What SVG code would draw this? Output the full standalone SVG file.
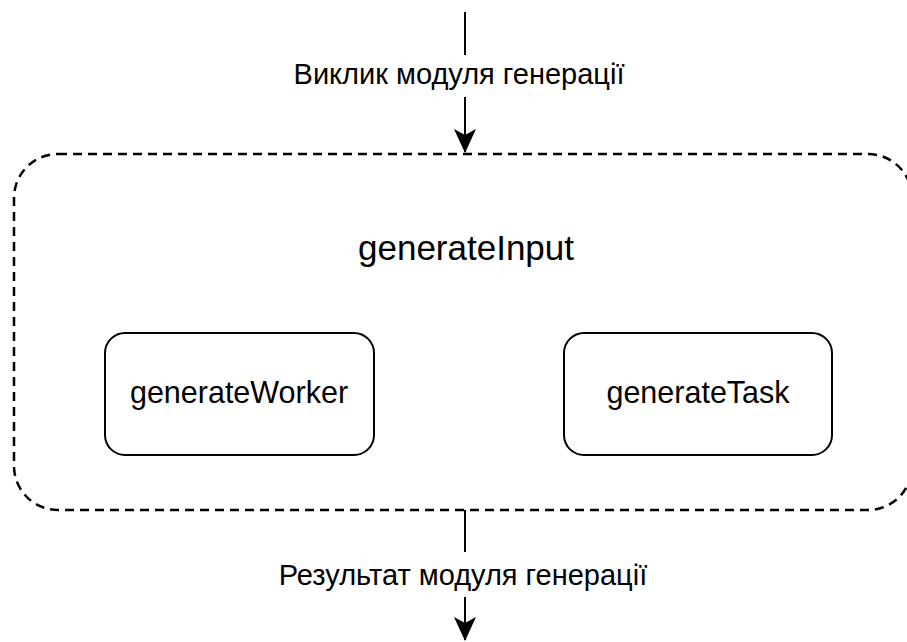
<svg xmlns="http://www.w3.org/2000/svg" width="907" height="642" viewBox="0 0 907 642">
<style>
text{font-family:"Liberation Sans",Arial,Helvetica,sans-serif;fill:#000;text-anchor:middle}
.lbl{font-size:29px}
.big{font-size:35px}
.mid{font-size:30.5px}
.box{fill:#fff;stroke:#000;stroke-width:2}
.cont{fill:none;stroke:#000;stroke-width:2.5;stroke-dasharray:9 6}
.edge{fill:none;stroke:#000;stroke-width:2}
</style>
<defs>
<marker id="ah" markerWidth="24" markerHeight="24" refX="23" refY="12" orient="auto" markerUnits="userSpaceOnUse" viewBox="0 0 24 24">
<path d="M0,1 L24,12 L0,23 L6,12 Z" fill="#000"/>
</marker>
</defs>
<rect width="907" height="642" fill="#fff"/>
<g id="generateInput">
<rect class="cont" x="14" y="154" width="898" height="356" rx="44" ry="44"/>
<text class="big" x="466" y="260">generateInput</text>
</g>
<g id="generateWorker">
<rect class="box" x="105" y="333" width="269" height="122" rx="20" ry="20"/>
<text class="mid" x="239" y="403">generateWorker</text>
</g>
<g id="generateTask">
<rect class="box" x="564" y="333" width="268" height="122" rx="20" ry="20"/>
<text class="mid" x="698" y="403">generateTask</text>
</g>
<g id="connectors">
<path class="edge" d="M465,12 V55"/>
<path class="edge" d="M465,97 V152" marker-end="url(#ah)"/>
<text class="lbl" x="459" y="84">Виклик модуля генерації</text>
<path class="edge" d="M465,510 V552"/>
<path class="edge" d="M465,597 V640" marker-end="url(#ah)"/>
<text class="lbl" x="463" y="585">Результат модуля генерації</text>
</g>
</svg>
